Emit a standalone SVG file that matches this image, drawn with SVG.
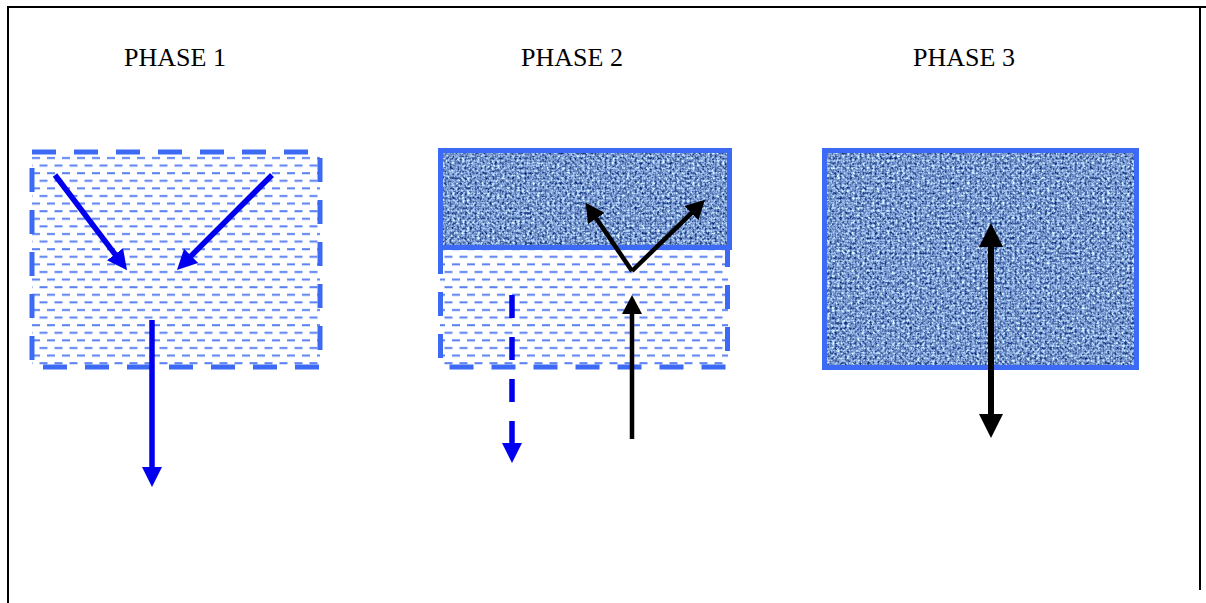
<svg xmlns="http://www.w3.org/2000/svg" width="1206" height="603" viewBox="0 0 1206 603">
  <style>
    .title { font-family: "Liberation Serif", "Times New Roman", serif; font-size: 26px; fill: #000; text-anchor: middle; }
    .frame { stroke: #000; stroke-width: 2; fill: none; }
    .dashedge { fill: none; stroke: #3d6af4; stroke-width: 5; stroke-dasharray: 24 18; }
    .solidedge { fill: none; stroke: #3d6af4; stroke-width: 5; }
    .blue { stroke: #0000ee; stroke-width: 5.5; fill: none; }
    .black { stroke: #000; stroke-width: 4.5; fill: none; }
    .black6 { stroke: #000; stroke-width: 6; fill: none; }
  </style>
  <defs>
    <pattern id="hatch" patternUnits="userSpaceOnUse" width="15" height="15.2" x="32" y="154">
      <rect x="0" y="3" width="8" height="2" fill="#5a80f2"/>
      <rect x="7.5" y="10.6" width="7.5" height="2" fill="#5a80f2"/>
      <rect x="0" y="10.6" width="0.5" height="2" fill="#5a80f2"/>
    </pattern>
    <pattern id="weave" patternUnits="userSpaceOnUse" width="5" height="5">
      <rect x="0" y="0" width="5" height="1.2" fill="#c8dbff" opacity="0.3"/>
      <rect x="0" y="0" width="1.2" height="5" fill="#0b2350" opacity="0.25"/>
    </pattern>
    <filter id="cloth" x="0" y="0" width="1" height="1" color-interpolation-filters="sRGB">
      <feTurbulence type="fractalNoise" baseFrequency="0.4" numOctaves="2" seed="7" result="n"/>
      <feColorMatrix in="n" type="matrix" values="1.5 0 0 0 -0.28  1.5 0 0 0 -0.15  1.2 0 0 0 0.22  0 0 0 0 1"/>
    </filter>
    <marker id="headBlue" markerUnits="userSpaceOnUse" markerWidth="20" markerHeight="20" refX="5" refY="10" orient="auto">
      <path d="M0,0 L20,10 L0,20 z" fill="#0000ee"/>
    </marker>
    <marker id="headBlack" markerUnits="userSpaceOnUse" markerWidth="20" markerHeight="20" refX="5" refY="10" orient="auto">
      <path d="M0,0 L19,10 L0,20 z" fill="#000"/>
    </marker>
    <marker id="headBig" markerUnits="userSpaceOnUse" markerWidth="24" markerHeight="24" refX="5" refY="12" orient="auto-start-reverse">
      <path d="M0,0 L24,12 L0,24 z" fill="#000"/>
    </marker>
  </defs>

  <g id="frame">
    <line class="frame" x1="7" y1="7" x2="1206" y2="7"/>
    <line class="frame" x1="8" y1="6" x2="8" y2="603"/>
    <line class="frame" x1="1200" y1="6" x2="1200" y2="590"/>
  </g>

  <g id="phase1">
    <text class="title" x="175" y="66">PHASE 1</text>
    <rect x="32" y="152" width="288" height="215" fill="url(#hatch)"/>
    <rect class="dashedge" x="32" y="152" width="288" height="215"/>
  </g>

  <g id="phase2">
    <text class="title" x="572" y="66">PHASE 2</text>
    <rect x="440" y="248" width="288" height="119" fill="url(#hatch)"/>
    <path class="dashedge" d="M440.5,250 V367 H727.5 V250"/>
    <rect x="440.5" y="150.5" width="289" height="97" filter="url(#cloth)"/>
    <rect x="440.5" y="150.5" width="289" height="97" fill="url(#weave)"/>
    <rect class="solidedge" x="440.5" y="150.5" width="289" height="97"/>
  </g>

  <g id="phase3">
    <text class="title" x="964" y="66">PHASE 3</text>
    <rect x="824.5" y="150.5" width="312" height="217" filter="url(#cloth)"/>
    <rect x="824.5" y="150.5" width="312" height="217" fill="url(#weave)"/>
    <rect class="solidedge" x="824.5" y="150.5" width="312" height="217"/>
  </g>

  <g id="connectors">
    <line class="blue" x1="55" y1="175" x2="118" y2="258.2" marker-end="url(#headBlue)"/>
    <line class="blue" x1="272" y1="175" x2="187.6" y2="259.4" marker-end="url(#headBlue)"/>
    <line class="blue" x1="152" y1="320" x2="152" y2="472" marker-end="url(#headBlue)"/>
    <line class="blue" x1="512" y1="295" x2="512" y2="448" stroke-dasharray="23 19" marker-end="url(#headBlue)"/>
    <line class="black" x1="632" y1="439" x2="632" y2="309" marker-end="url(#headBlack)"/>
    <line class="black" x1="632" y1="271" x2="593.5" y2="214.3" marker-end="url(#headBlack)"/>
    <line class="black" x1="632" y1="271" x2="695" y2="209.6" marker-end="url(#headBlack)"/>
    <line class="black6" x1="991" y1="242" x2="991" y2="419" marker-start="url(#headBig)" marker-end="url(#headBig)"/>
  </g>
</svg>
